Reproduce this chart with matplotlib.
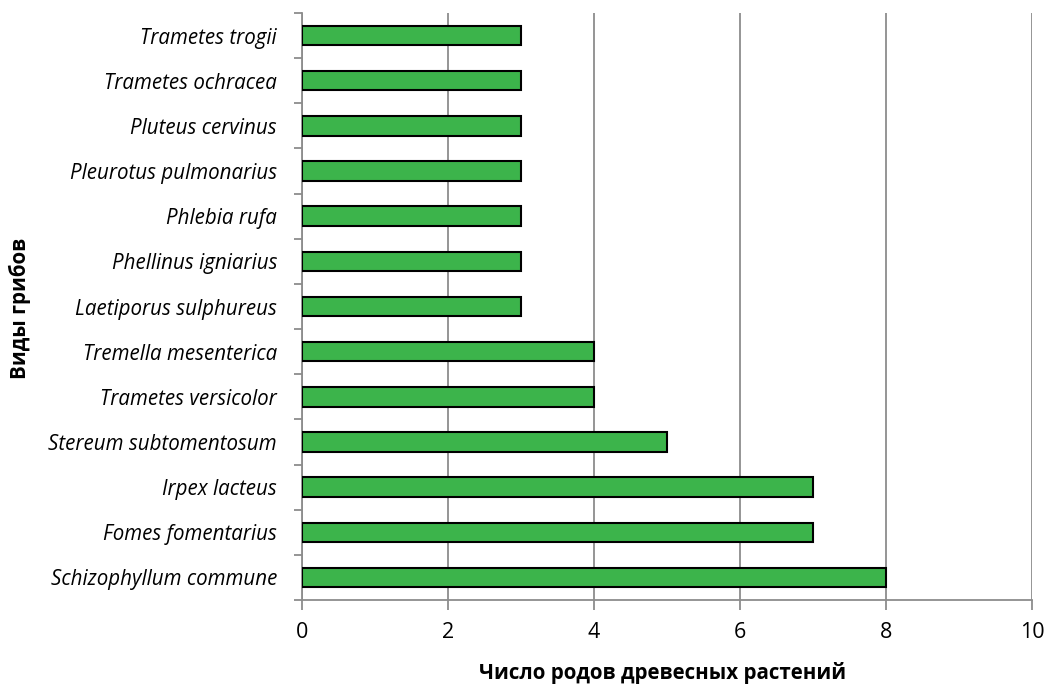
import matplotlib
matplotlib.use("Agg")
import matplotlib.pyplot as plt
import numpy as np

species = [
    "Schizophyllum commune",
    "Fomes fomentarius",
    "Irpex lacteus",
    "Stereum subtomentosum",
    "Trametes versicolor",
    "Tremella mesenterica",
    "Laetiporus sulphureus",
    "Phellinus igniarius",
    "Phlebia rufa",
    "Pleurotus pulmonarius",
    "Pluteus cervinus",
    "Trametes ochracea",
    "Trametes trogii",
]
genera_count = [8, 7, 7, 5, 4, 4, 3, 3, 3, 3, 3, 3, 3]
x_ticks = [0, 2, 4, 6, 8, 10]

plt.rcParams["font.family"] = ["Open Sans", "DejaVu Sans"]

W, H = 1046, 688
fig = plt.figure(figsize=(W / 100, H / 100), dpi=100)
ax = fig.add_axes([302 / W, 1 - 600 / H, 730 / W, 587 / H])

grid_c = "#8c8c8c"
y = np.arange(len(species))
ax.barh(y, genera_count, height=0.43, color="#3cb44b", edgecolor="black",
        linewidth=1.5, zorder=3)

ax.set_xlim(0, 10)
ax.set_ylim(-0.5, len(species) - 0.5)
ax.set_xticks(x_ticks)
ax.set_xticklabels([str(t) for t in x_ticks], fontsize=15.5)
ax.xaxis.grid(True, color=grid_c, linewidth=1.3, zorder=0)

ax.set_yticks(y)
ax.set_yticklabels(species, fontsize=14.8, style="italic")
ax.tick_params(axis="y", length=0, pad=18)
ax.set_yticks(np.arange(-0.5, len(species), 1.0), minor=True)
ax.tick_params(axis="y", which="minor", length=6, width=1.3, color=grid_c, direction="out")
ax.tick_params(axis="x", length=7, width=1.3, color=grid_c, direction="out", pad=9)

for side in ["top", "right"]:
    ax.spines[side].set_visible(False)
for side in ["left", "bottom"]:
    ax.spines[side].set_color(grid_c)
    ax.spines[side].set_linewidth(1.3)

fig.text(663 / W, 1 - 673 / H, "Число родов древесных растений", fontsize=14.8,
         fontweight="bold", ha="center", va="center")
fig.text(20 / W, 1 - 308 / H, "Виды грибов", fontsize=14.8, fontweight="bold",
         rotation=90, ha="center", va="center")

fig.savefig("out.png", dpi=100)
